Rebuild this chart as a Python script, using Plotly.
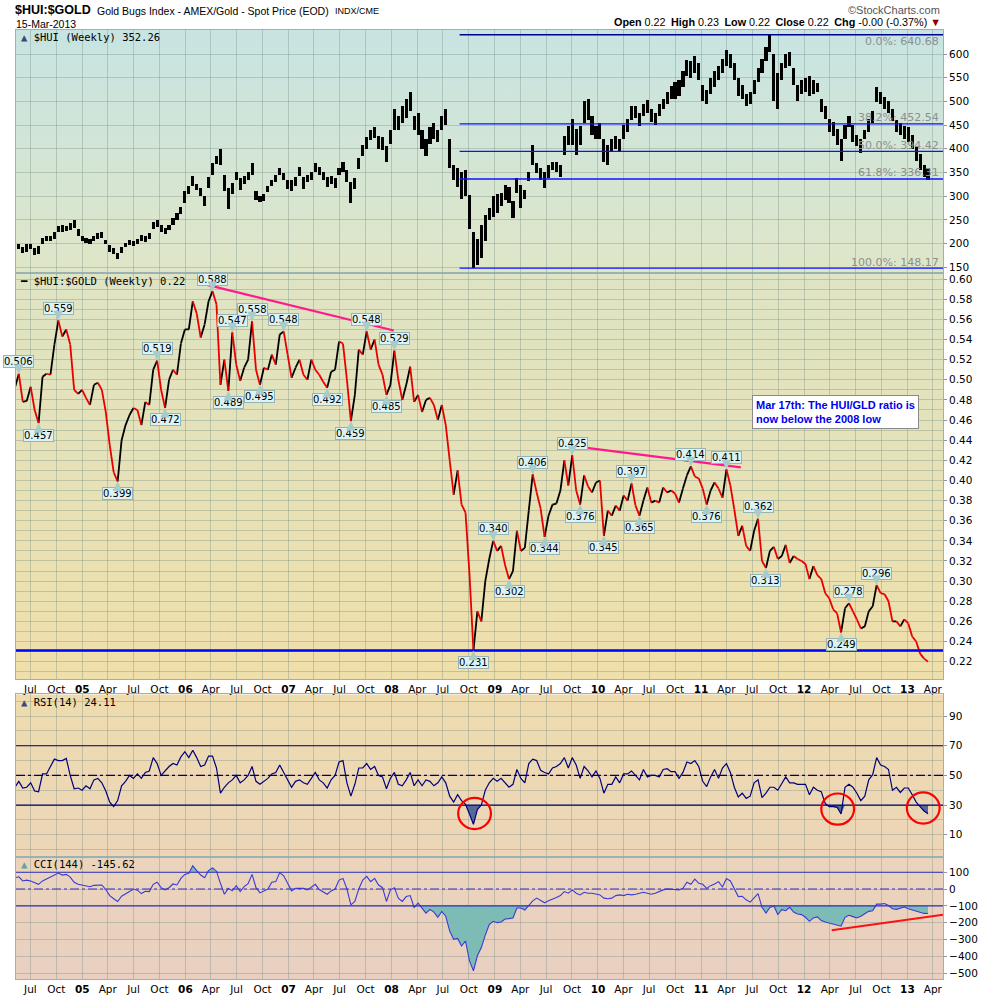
import base64

import numpy as np
import pandas as pd
import plotly.graph_objects as go

# $HUI:$GOLD weekly chart (StockCharts, 15-Mar-2013).
# Values, one point every other week.
dates = pd.date_range(end="2013-03-15", periods=232, freq="14D")

ratio = [
    # 2004
    0.492, 0.506, 0.478, 0.479, 0.493, 0.470, 0.457, 0.503, 0.506, 0.505, 0.535, 0.559, 0.543, 0.550, 0.535, 0.490, 0.486,
    # 2005
    0.490, 0.482, 0.475, 0.495, 0.497, 0.490, 0.468, 0.435, 0.408, 0.399, 0.440, 0.455, 0.465, 0.472, 0.470, 0.455, 0.478,
    0.475, 0.510, 0.519, 0.490, 0.472, 0.500, 0.510, 0.505, 0.536,
    # 2006
    0.550, 0.550, 0.578, 0.566, 0.542, 0.555, 0.578, 0.588, 0.575, 0.495, 0.520, 0.489, 0.547, 0.515, 0.499, 0.512, 0.520,
    0.558, 0.510, 0.495, 0.512, 0.510, 0.525, 0.515, 0.545, 0.548, 0.525,
    # 2007
    0.502, 0.512, 0.520, 0.505, 0.500, 0.520, 0.510, 0.505, 0.498, 0.492, 0.508, 0.510, 0.538, 0.536, 0.500, 0.459, 0.485,
    0.530, 0.525, 0.548, 0.530, 0.540, 0.515, 0.505, 0.485, 0.495,
    # 2008
    0.529, 0.500, 0.480, 0.495, 0.513, 0.478, 0.485, 0.468, 0.480, 0.482, 0.475, 0.460, 0.475, 0.455, 0.420, 0.386, 0.410,
    0.376, 0.368, 0.307, 0.231, 0.270, 0.260, 0.300, 0.322, 0.340,
    # 2009
    0.330, 0.335, 0.316, 0.302, 0.310, 0.350, 0.330, 0.333, 0.370, 0.406, 0.388, 0.372, 0.344, 0.365, 0.376, 0.377, 0.390,
    0.420, 0.395, 0.425, 0.390, 0.376, 0.405, 0.394, 0.388, 0.398,
    # 2010
    0.400, 0.345, 0.370, 0.365, 0.375, 0.370, 0.385, 0.380, 0.397, 0.375, 0.365, 0.380, 0.393, 0.378, 0.380, 0.378, 0.393,
    0.388, 0.390, 0.387, 0.378, 0.392, 0.405, 0.414, 0.404, 0.402,
    # 2011
    0.392, 0.376, 0.390, 0.398, 0.392, 0.383, 0.411, 0.395, 0.371, 0.345, 0.355, 0.335, 0.330, 0.350, 0.362, 0.320, 0.313,
    0.330, 0.334, 0.322, 0.325, 0.336, 0.318, 0.325, 0.322, 0.320,
    # 2012
    0.317, 0.302, 0.315, 0.306, 0.302, 0.288, 0.283, 0.272, 0.268, 0.249, 0.273, 0.278, 0.270, 0.262, 0.253, 0.255, 0.270,
    0.275, 0.296, 0.288, 0.287, 0.280, 0.260, 0.260, 0.255, 0.262,
    # 2013
    0.258, 0.245, 0.240, 0.228, 0.223, 0.220,
]

hui_high = [
    195, 200, 192, 198, 200, 190, 195, 212, 215, 216, 225, 238, 240, 238, 244, 250, 230,
    215, 212, 210, 215, 222, 225, 208, 196, 190, 180, 192, 202, 208, 205, 210, 218, 215, 222, 245, 250, 240, 232, 240, 253, 265, 278,
    310, 322, 342, 325, 318, 300, 340, 370, 385, 400, 345, 318, 328, 350, 338, 342, 350, 370, 310, 300, 305, 322, 335, 345, 360, 348, 335,
    335, 340, 362, 340, 345, 352, 370, 362, 352, 340, 342, 338, 360, 372, 355, 330, 338, 380, 408, 425, 440, 447, 428, 425, 405, 440,
    485, 470, 490, 505, 520, 470, 475, 440, 420, 445, 455, 440, 470, 485, 420, 365, 360, 350, 355, 303, 225, 210, 240, 260, 275, 300,
    305, 306, 324, 320, 289, 338, 324, 313, 352, 407, 369, 359, 352, 366, 373, 373, 366, 428, 449, 463, 442, 449, 500, 505, 470, 449,
    455, 420, 407, 420, 428, 420, 450, 462, 490, 490, 476, 495, 502, 484, 476, 495, 505, 520, 532, 540, 546, 565, 588, 585, 595, 580,
    535, 525, 550, 565, 575, 590, 609, 600, 580, 550, 535, 515, 520, 545, 570, 590, 615, 641, 600, 560, 580, 600, 605, 570, 535, 545,
    550, 553, 545, 539, 505, 491, 463, 456, 442, 420, 450, 470, 450, 430, 420, 440, 463, 480, 530, 520, 510, 500, 485, 460, 455, 448,
    445, 430, 405, 390, 365, 360,
]
hui_low = [
    185, 188, 180, 183, 188, 175, 178, 198, 205, 205, 210, 225, 225, 226, 228, 232, 215,
    205, 202, 198, 205, 210, 212, 198, 183, 178, 168, 180, 193, 197, 195, 198, 205, 203, 210, 230, 235, 225, 220, 228, 240, 250, 262,
    285, 305, 322, 312, 300, 280, 318, 345, 368, 365, 310, 272, 305, 335, 312, 325, 335, 345, 292, 288, 290, 308, 322, 330, 345, 335, 315,
    310, 322, 342, 315, 330, 335, 350, 345, 335, 320, 325, 318, 345, 352, 330, 285, 315, 358, 385, 400, 418, 422, 400, 398, 372, 410,
    440, 440, 455, 465, 480, 440, 430, 400, 385, 410, 420, 415, 440, 450, 360, 335, 320, 295, 300, 230, 148, 155, 170, 205, 250, 255,
    265, 279, 292, 285, 254, 306, 275, 293, 331, 366, 348, 334, 317, 338, 355, 352, 341, 386, 407, 407, 386, 407, 455, 460, 430, 421,
    421, 372, 366, 395, 400, 393, 420, 435, 460, 465, 449, 470, 475, 456, 450, 470, 484, 495, 505, 505, 512, 530, 553, 550, 560, 545,
    500, 495, 515, 530, 545, 560, 575, 570, 545, 512, 505, 490, 495, 515, 540, 560, 585, 605, 500, 485, 545, 570, 575, 535, 500, 515,
    520, 512, 515, 519, 477, 463, 435, 428, 407, 375, 420, 445, 415, 405, 392, 420, 435, 455, 498, 495, 485, 475, 458, 435, 430, 420,
    415, 400, 375, 355, 340, 335,
]

rsi = [
    42, 46, 41.5, 42, 45, 39.5, 39, 51, 51, 56, 61, 60, 60, 61.5, 50, 41, 41.5,
    40, 43, 41, 47, 48, 45, 39.5, 32, 29, 33, 43, 46, 50, 48, 51, 48, 52, 53, 62, 58, 50, 53, 56, 58, 57, 62.5,
    66, 62, 67, 62, 56, 57, 63, 63, 55, 38, 42, 45, 47, 50, 45, 47, 50, 56, 46, 44, 46, 48, 51, 52, 57, 52, 47,
    42, 46, 47, 45, 44, 48, 52, 47, 45, 41.5, 47, 50, 59, 60, 45, 36, 44, 55, 55, 58, 54, 56, 50, 49, 41, 48,
    52, 44, 43, 47, 52, 43, 47, 43, 47, 46, 43, 45, 49, 45, 36, 32, 37, 33, 30.5, 24, 17, 27, 30, 40, 45, 48,
    46, 48, 45, 42, 44, 54, 48, 45, 58, 61, 60, 53.5, 52, 51, 55, 56, 58, 62, 55, 62, 57, 48, 56, 53, 49, 53,
    48, 38, 44, 44, 49, 45, 51, 51, 53, 50, 47, 54, 49, 50, 50, 49, 54, 54.5, 52.5, 52.5, 48, 52, 59, 58, 60, 56,
    46, 42.5, 49, 54, 48, 55, 58, 52, 42, 35.5, 38, 34.5, 36, 45, 47, 35, 38, 42, 42, 40, 45, 49, 45, 45, 44, 44,
    44, 37, 42, 40, 39, 31, 29, 29, 28.5, 24, 42, 44, 42, 38, 33, 36, 47, 50.5, 62, 57, 56, 54, 40, 42, 38.5, 41.5,
    41.5, 37, 32, 29, 26, 24.11,
]

cci = [
    67, 73, 48, 53, 48, 36, 28, 48, 59, 71, 83, 95, 83, 87, 71, 40, 28,
    22, 20, 14, 22, 24, 24, -3, -39, -58, -74, -43, -31, -15, 0, -7, -27, -13, -15, 28, 40, 8, -5, 8, 30, 24, 63,
    87, 93, 138, 110, 83, 67, 110, 126, 106, 34, -31, 4, -11, 20, -15, 14, 32, 87, 8, -23, -11, 0, 40, 44, 98, 79, 34,
    -11, 4, 4, 4, -5, 14, 28, -3, -15, -31, -11, 0, 53, 63, 0, -94, -74, 0, 53, 75, 44, 63, 24, 8, -74, -5,
    8, -54, -74, -45, -39, -109, -84, -113, -143, -121, -137, -168, -133, -162, -250, -299, -294, -339, -309, -427,
    -486, -397, -348, -274, -211, -192,
    -200, -196, -178, -176, -172, -113, -113, -125, -98, -70, -54, -70, -82, -70, -62, -50, -39, -15, -25, -5,
    -25, -35, -19, -25, -25, -31,
    -35, -54, -58, -54, -39, -35, -39, -31, -35, -31, -25, -19, -25, -31, -25, -15, -5, 0, -3, -5, -5, 4, 40, 28, 59, 34,
    28, 4, 20, 30, 44, 12, 63, 48, 4, -45, -43, -64, -78, -54, -27, -109, -143, -109, -101, -152, -123, -129, -109,
    -137, -148, -152,
    -168, -192, -172, -166, -188, -196, -203, -207, -213, -221, -168, -156, -164, -172, -162, -148, -133, -129, -90,
    -90, -86, -98, -117, -121, -113, -107,
    -117, -125, -133, -141, -145, -145.62,
]

assert all(len(s) == len(dates) for s in (ratio, hui_high, hui_low, rsi, cci))

# labelled turning points on the ratio line (index into the series)
peaks_up = [1, 11, 36, 50, 55, 60, 68, 89, 96, 121, 131, 141, 156, 171, 180, 188, 211, 218]
peaks_dn = [6, 26, 38, 54, 62, 79, 85, 94, 116, 125, 134, 143, 149, 158, 175, 190, 209]

fib_pct = ["0.0%", "38.2%", "50.0%", "61.8%", "100.0%"]
fib_levels = [640.68, 452.54, 394.42, 336.31, 148.17]
fib_start = "2008-08-29"

hui_ticks = [150, 200, 250, 300, 350, 400, 450, 500, 550, 600]
tick_dates = pd.date_range("2004-07-01", "2013-04-01", freq="QS")
tick_text = ["<b>%02d</b>" % (d.year % 100) if d.month == 1 else d.strftime("%b") for d in tick_dates]

x_range = ["2004-05-11", "2013-05-07"]

# ---------------------------------------------------------------------------
W, H = 990, 1007
L, R, T, B = 16, 40, 30, 17


def pxx(x):
    return (x - L) / (W - L - R)


def pxy(y):
    return (H - B - y) / (H - T - B)


dom_top = [pxy(276), 1.0]
dom_mid = [pxy(687), pxy(276)]
dom_rsi = [pxy(867), pxy(702)]
dom_cci = [0.0, pxy(867)]


def gradient(c0, c1):
    svg = ('<svg xmlns="http://www.w3.org/2000/svg" width="10" height="100" viewBox="0 0 10 100" '
           'preserveAspectRatio="none"><defs><linearGradient id="g" x1="0" y1="0" x2="0" y2="1">'
           f'<stop offset="0" stop-color="{c0}"/><stop offset="1" stop-color="{c1}"/>'
           '</linearGradient></defs><rect width="10" height="100" fill="url(#g)"/></svg>')
    return "data:image/svg+xml;base64," + base64.b64encode(svg.encode()).decode()


def panel_image(dom, c0, c1):
    return dict(source=gradient(c0, c1), xref="paper", yref="paper", x=0, y=dom[1],
                sizex=1, sizey=dom[1] - dom[0], xanchor="left", yanchor="top",
                sizing="stretch", layer="below")


def split_segments(xs, ys):
    up_x, up_y, dn_x, dn_y = [], [], [], []
    for k in range(len(ys) - 1):
        tx, ty = (up_x, up_y) if ys[k + 1] >= ys[k] else (dn_x, dn_y)
        tx += [xs[k], xs[k + 1], None]
        ty += [ys[k], ys[k + 1], None]
    return up_x, up_y, dn_x, dn_y


fig = go.Figure()

# HUI weekly bars
hi = np.array(hui_high, dtype=float)
lo = np.array(hui_low, dtype=float)
fig.add_trace(go.Bar(x=dates, y=hi - lo, base=lo, width=11 * 86400000,
                     marker=dict(color="black", line=dict(width=0)),
                     xaxis="x", yaxis="y", hoverinfo="skip"))

# ratio line: black when rising, red when falling
ux, uy, dx, dy = split_segments(list(dates), ratio)
fig.add_trace(go.Scatter(x=ux, y=uy, mode="lines", line=dict(color="black", width=1.8),
                         xaxis="x2", yaxis="y2", hoverinfo="skip"))
fig.add_trace(go.Scatter(x=dx, y=dy, mode="lines", line=dict(color="#e80000", width=1.8),
                         xaxis="x2", yaxis="y2", hoverinfo="skip"))

# RSI with oversold fill
rsi_a = np.array(rsi, dtype=float)
fig.add_trace(go.Scatter(x=dates, y=[30] * len(dates), mode="lines", line=dict(width=0),
                         xaxis="x3", yaxis="y3", hoverinfo="skip"))
fig.add_trace(go.Scatter(x=dates, y=np.minimum(rsi_a, 30), mode="lines", line=dict(width=0),
                         fill="tonexty", fillcolor="#56679a", xaxis="x3", yaxis="y3", hoverinfo="skip"))
fig.add_trace(go.Scatter(x=dates, y=rsi, mode="lines", line=dict(color="#00007a", width=1.2),
                         xaxis="x3", yaxis="y3", hoverinfo="skip"))

# CCI with fills beyond +/-100
cci_a = np.array(cci, dtype=float)
for lvl, clip in ((-100, np.minimum), (100, np.maximum)):
    fig.add_trace(go.Scatter(x=dates, y=[lvl] * len(dates), mode="lines", line=dict(width=0),
                             xaxis="x4", yaxis="y4", hoverinfo="skip"))
    fig.add_trace(go.Scatter(x=dates, y=clip(cci_a, lvl), mode="lines", line=dict(width=0),
                             fill="tonexty", fillcolor="#7dbcb4", xaxis="x4", yaxis="y4", hoverinfo="skip"))
fig.add_trace(go.Scatter(x=dates, y=cci, mode="lines", line=dict(color="#3a3ad6", width=1.1),
                         xaxis="x4", yaxis="y4", hoverinfo="skip"))

# ---------------------------------------------------------------------------
shapes = []
for lvl, pct in zip(fib_levels, fib_pct):
    shapes.append(dict(type="line", xref="x", yref="y", x0=fib_start, x1=x_range[1], y0=lvl, y1=lvl,
                       line=dict(color="#000088" if pct == "0.0%" else "#0a14ff", width=1.4)))

low_2008 = min(ratio[96:122])
shapes.append(dict(type="line", xref="x2 domain", yref="y2", x0=0, x1=1, y0=low_2008, y1=low_2008,
                   line=dict(color="#0000ff", width=2.5)))

pink = "#ff1a8c"
shapes.append(dict(type="line", xref="x2", yref="y2", x0="2006-03-08", y0=0.595, x1="2008-01-09", y1=0.549,
                   line=dict(color=pink, width=2.2)))
shapes.append(dict(type="line", xref="x2", yref="y2", x0="2009-08-10", y0=0.436, x1="2011-05-22", y1=0.413,
                   line=dict(color=pink, width=2.2)))

for lvl, dash in ((70, "solid"), (30, "solid"), (50, "dashdot")):
    shapes.append(dict(type="line", xref="x3 domain", yref="y3", x0=0, x1=1, y0=lvl, y1=lvl,
                       line=dict(color="#000070", width=1.2, dash=dash)))
for lvl, dash in ((100, "solid"), (-100, "solid"), (0, "dashdot")):
    shapes.append(dict(type="line", xref="x4 domain", yref="y4", x0=0, x1=1, y0=lvl, y1=lvl,
                       line=dict(color="#3030c0", width=1.1, dash=dash)))

for cx, cy in (("2008-10-21", 24.3), ("2012-04-29", 27.3), ("2013-02-26", 28.0)):
    c = pd.Timestamp(cx)
    shapes.append(dict(type="circle", xref="x3", yref="y3",
                       x0=c - pd.Timedelta(days=58), x1=c + pd.Timedelta(days=58),
                       y0=cy - 10.5, y1=cy + 10.5, line=dict(color="#ff0000", width=2.2)))

shapes.append(dict(type="line", xref="x4", yref="y4", x0="2012-04-08", y0=-245, x1=x_range[1], y1=-153,
                   line=dict(color="#ff1010", width=2.2)))

# ---------------------------------------------------------------------------
ann = []
label_font = dict(family="DejaVu Sans", size=10, color="black")
for idx_list, off in ((peaks_up, -12), (peaks_dn, 12)):
    for i in idx_list:
        ann.append(dict(x=dates[i], y=ratio[i], xref="x2", yref="y2", text=f"{ratio[i]:.3f}",
                        showarrow=True, arrowhead=2, arrowsize=1.6, arrowwidth=1.2, arrowcolor="#a8cccc",
                        standoff=0, ax=0, ay=off, bgcolor="#ddf3f3", bordercolor="#95b5b5",
                        borderwidth=1, borderpad=0, font=label_font))

for lvl, pct in zip(fib_levels, fib_pct):
    # the top label sits just under its line so it stays clear of the quote line
    ann.append(dict(xref="paper", yref="y", x=pxx(948), y=lvl, yshift=-7 if pct == "0.0%" else 6,
                    xanchor="right", yanchor="middle", text=f"{pct}: {lvl:.2f}", showarrow=False,
                    font=dict(family="DejaVu Sans", size=11, color="#8e8e8e")))

ann.append(dict(xref="paper", yref="paper", x=pxx(758), y=pxy(416), xanchor="left", yanchor="middle",
                text="<b>Mar 17th: The HUI/GLD ratio is<br>now below the 2008 low</b>", align="left",
                showarrow=False, bgcolor="white", bordercolor="#8a8a8a", borderwidth=1, borderpad=3,
                font=dict(family="Liberation Sans", size=11, color="#0000ee")))


def label(x, y, text, size=11, family="Liberation Sans", color="black", anchor="left"):
    ann.append(dict(xref="paper", yref="paper", x=pxx(x), y=pxy(y), xanchor=anchor, yanchor="middle",
                    text=text, showarrow=False, font=dict(family=family, size=size, color=color)))


label(13, 10, "<b>$HUI:$GOLD</b>", size=12.5)
label(96, 11, "Gold Bugs Index - AMEX/Gold - Spot Price (EOD)", size=10.5)
label(335, 11, "INDX/CME", size=9)
label(14, 24, "15-Mar-2013", size=10.5)
label(949, 10, "\u00a9StockCharts.com", size=11, color="#555555", anchor="right")
label(950, 22, "<b>Open</b> 0.22\u2002<b>High</b> 0.23\u2002<b>Low</b> 0.22\u2002<b>Close</b> 0.22\u2002"
               "<b>Chg</b> -0.00 (-0.37%) <span style='color:#8b0000'>\u25bc</span>", size=10.8, anchor="right")

mono = "DejaVu Sans Mono"
label(19, 37, "<span style='color:#3a4a70'>\u25b2</span> $HUI (Weekly) 352.26", size=10.5, family=mono)
label(18, 284, "\u2501 $HUI:$GOLD (Weekly) 0.22", size=10.5, family=mono)
label(19, 710, "<span style='color:#3a4a80'>\u25b2</span> RSI(14) 24.11", size=10.5, family=mono)
label(19, 874, "<span style='color:#5aa8a0'>\u25b2</span> CCI(144) -145.62", size=10.5, family=mono)

# ---------------------------------------------------------------------------
grid = "rgba(105,135,125,0.33)"
border = "#9cb2b2"
tick_font = dict(family="DejaVu Sans", size=10.5, color="black")

xcommon = dict(type="date", range=x_range, tickvals=tick_dates, ticktext=tick_text, showgrid=True,
               gridcolor=grid, gridwidth=1, showline=True, mirror=True, linecolor=border, ticks="",
               tickfont=tick_font, zeroline=False, domain=[0, 1])
ycommon = dict(side="right", showgrid=True, gridcolor=grid, gridwidth=1, showline=True, mirror=True,
               linecolor=border, ticks="outside", ticklen=3, tickcolor="#8a9a9a", tickfont=tick_font,
               zeroline=False)

fig.update_layout(
    width=W, height=H,
    margin=dict(l=L, r=R, t=T, b=B),
    paper_bgcolor="white", plot_bgcolor="rgba(0,0,0,0)",
    showlegend=False,
    xaxis=dict(**xcommon, anchor="y", showticklabels=False),
    xaxis2=dict(**xcommon, anchor="y2", matches="x", showticklabels=True),
    xaxis3=dict(**xcommon, anchor="y3", matches="x", showticklabels=False),
    xaxis4=dict(**xcommon, anchor="y4", matches="x", showticklabels=True),
    yaxis=dict(**ycommon, anchor="x", domain=dom_top, range=[137.4, 650.7], tickmode="array",
               tickvals=hui_ticks),
    yaxis2=dict(**ycommon, anchor="x2", domain=dom_mid, range=[0.2023, 0.6059], tickmode="linear",
                tick0=0.2, dtick=0.02, tickformat=".2f",
                minor=dict(dtick=0.01, showgrid=True, gridcolor=grid)),
    yaxis3=dict(**ycommon, anchor="x3", domain=dom_rsi, range=[-5.3, 104.7], tickmode="linear",
                tick0=10, dtick=20, minor=dict(dtick=10, showgrid=True, gridcolor=grid)),
    yaxis4=dict(**ycommon, anchor="x4", domain=dom_cci, range=[-535, 188], tickmode="linear",
                tick0=0, dtick=100),
    images=[
        panel_image(dom_top, "#c7e4e3", "#dfe6c7"),
        panel_image(dom_mid, "#dee4c4", "#efdfaa"),
        panel_image(dom_rsi, "#eedcae", "#ecd5b8"),
        panel_image(dom_cci, "#ebd4bb", "#e9cfc1"),
    ],
    shapes=shapes,
    annotations=ann,
    bargap=0,
)

fig.write_html("out.html", config={"displayModeBar": False},
               post_script="document.body.style.margin='0';")
